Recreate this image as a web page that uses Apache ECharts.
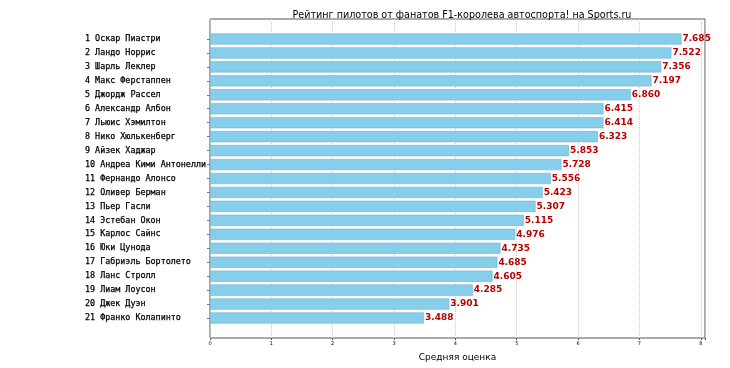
<!DOCTYPE html>
<html>
<head>
<meta charset="utf-8">
<script src="https://cdn.jsdelivr.net/npm/echarts@6/dist/echarts.min.js"></script>
<style>html,body{margin:0;padding:0;background:#fff}#c{width:730px;height:368px}</style>
</head>
<body>
<div id="c"></div>
<script>
const drivers = ["1 Оскар Пиастри","2 Ландо Норрис","3 Шарль Леклер","4 Макс Ферстаппен","5 Джордж Рассел","6 Александр Албон","7 Льюис Хэмилтон","8 Нико Хюлькенберг","9 Айзек Хаджар","10 Андреа Кими Антонелли","11 Фернандо Алонсо","12 Оливер Берман","13 Пьер Гасли","14 Эстебан Окон","15 Карлос Сайнс","16 Юки Цунода","17 Габриэль Бортолето","18 Ланс Стролл","19 Лиам Лоусон","20 Джек Дуэн","21 Франко Колапинто"];
const ratings = [7.685,7.522,7.356,7.197,6.860,6.415,6.414,6.323,5.853,5.728,5.556,5.423,5.307,5.115,4.976,4.735,4.685,4.605,4.285,3.901,3.488];
const xTicks = [0,1,2,3,4,5,6,7,8];
const xMax = Math.max(...ratings) * 1.05;

const chart = echarts.init(document.getElementById('c'), null, {renderer:'canvas'});
chart.setOption({
  animation:false,
  title:{text:'Рейтинг пилотов от фанатов F1-королева автоспорта! на Sports.ru', left:457, textAlign:'center', top:5,
    textStyle:{fontFamily:'DejaVu Sans', fontSize:9.6, fontWeight:'normal', color:'#000'}},
  grid:[
    {left:210, right:25, top:19, bottom:30, show:true, borderColor:'#555', borderWidth:1, backgroundColor:'transparent'},
    {left:210, right:25, top:32, bottom:43}
  ],
  xAxis:[
    {gridIndex:0, type:'value', min:0, max:xMax, interval:1,
      name:'Средняя оценка', nameLocation:'middle', nameGap:15,
      nameTextStyle:{fontFamily:'DejaVu Sans', fontSize:9, color:'#000'},
      axisLine:{show:false},
      axisTick:{show:true, length:2, lineStyle:{color:'#555'}},
      axisLabel:{fontFamily:'DejaVu Sans', fontSize:5, color:'#000', margin:3,
        formatter:v=> xTicks.includes(v)? String(v):''},
      splitLine:{show:true, lineStyle:{color:'#ccc', type:'dotted', width:1}}},
    {gridIndex:1, type:'value', min:0, max:xMax, show:false}
  ],
  yAxis:[
    {gridIndex:0, type:'value', min:0, max:1, show:false},
    {gridIndex:1, type:'category', inverse:true, data:drivers,
      axisLine:{show:false},
      axisTick:{show:true, alignWithLabel:true, length:3, lineStyle:{color:'#777'}},
      axisLabel:{align:'left', margin:125, fontFamily:'DejaVu Sans Mono', fontSize:8.4, color:'#000', textBorderColor:'#000', textBorderWidth:0.25}}
  ],
  series:[{
    type:'bar', xAxisIndex:1, yAxisIndex:1, data:ratings, barCategoryGap:'20%',
    itemStyle:{color:'#87CEEB', borderColor:'#6fb3d3', borderWidth:0.6},
    label:{show:true, position:'right', distance:1, formatter:p=>p.value.toFixed(3),
      fontFamily:'DejaVu Sans', fontWeight:'bold', fontSize:9, color:'#b80000'}
  }]
});
</script>
</body>
</html>
